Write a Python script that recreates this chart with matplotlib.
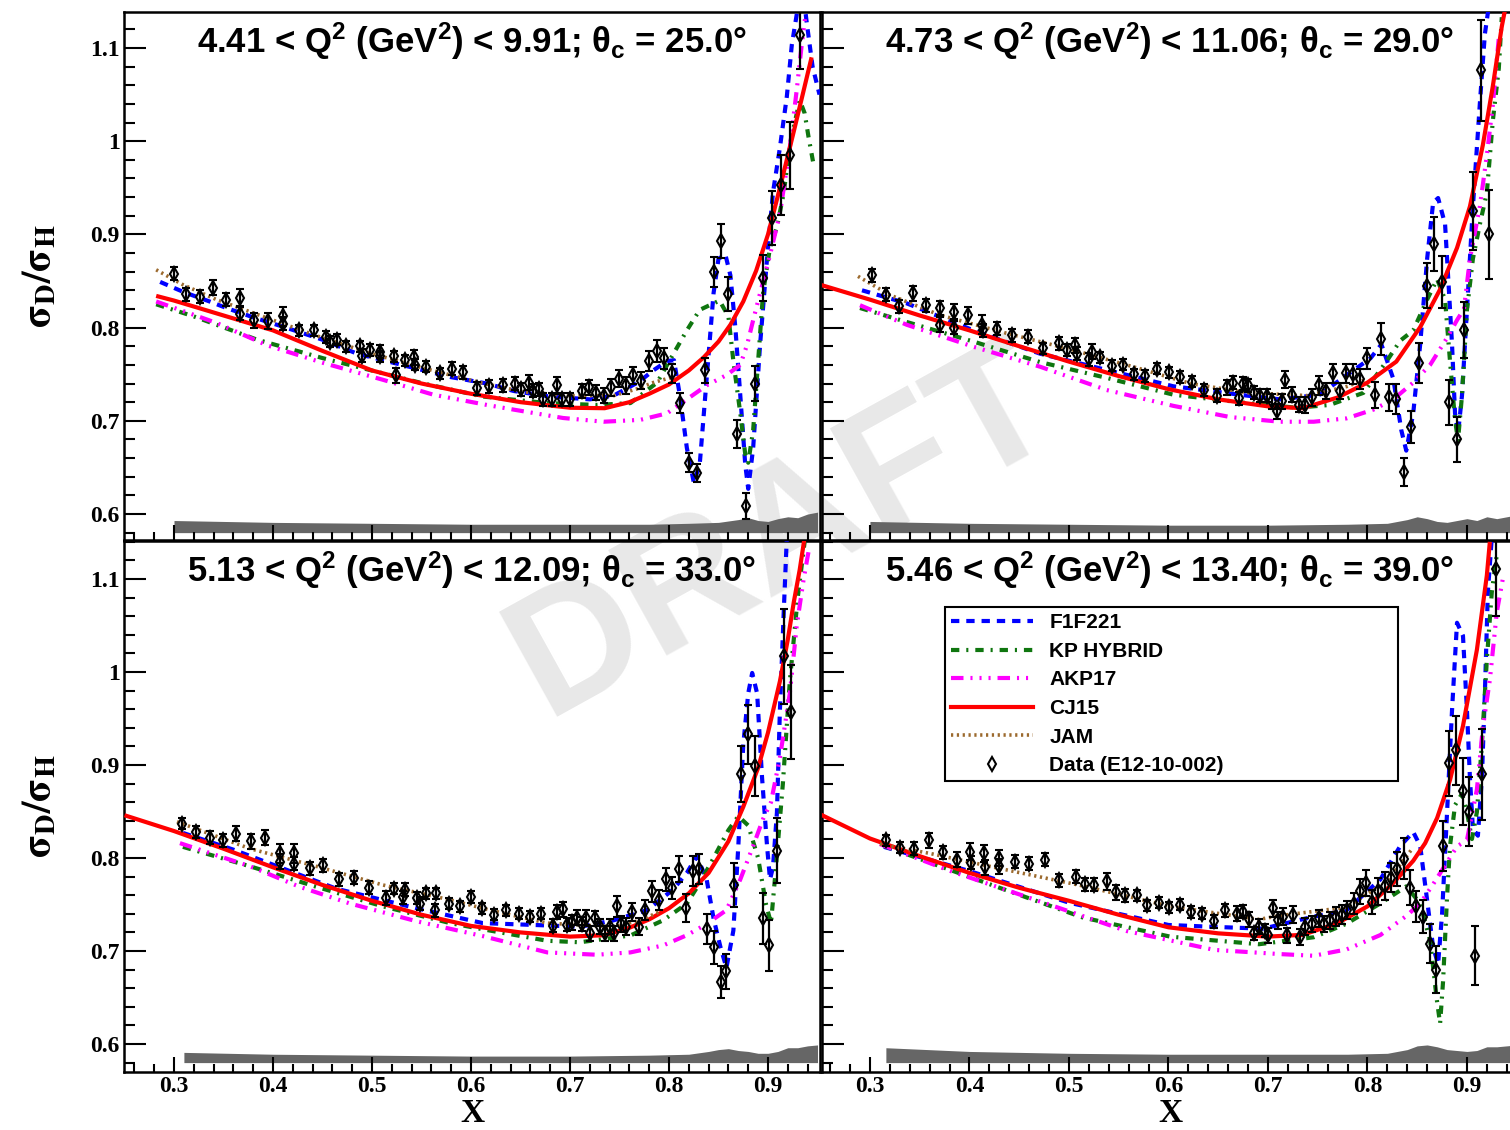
import matplotlib
matplotlib.use("Agg")
import matplotlib.pyplot as plt
from matplotlib.ticker import MultipleLocator
from matplotlib.lines import Line2D

# -------------------------------
# FONTS
# -------------------------------
plt.rcParams["font.family"] = "Liberation Serif"
plt.rcParams["font.weight"] = "bold"
plt.rcParams["mathtext.fontset"] = "custom"
plt.rcParams["mathtext.rm"] = "Liberation Sans:bold"
plt.rcParams["mathtext.it"] = "Liberation Sans:bold"
plt.rcParams["mathtext.bf"] = "Liberation Sans:bold"
plt.rcParams["lines.scale_dashes"] = False

# -------------------------------
# DATA : panel 1 (theta = 25)
# -------------------------------
p1_x = [0.300, 0.312, 0.326, 0.339, 0.353, 0.367, 0.367, 0.381, 0.395, 0.410, 0.410, 0.426, 0.441, 0.454,
        0.458, 0.465, 0.474, 0.488, 0.490, 0.498, 0.508, 0.508, 0.522, 0.524, 0.533, 0.542, 0.543, 0.555,
        0.569, 0.581, 0.592, 0.606, 0.618, 0.632, 0.644, 0.650, 0.659, 0.663, 0.669, 0.673, 0.682, 0.687,
        0.692, 0.700, 0.712, 0.719, 0.726, 0.734, 0.741, 0.749, 0.757, 0.764, 0.772, 0.780, 0.788, 0.795,
        0.803, 0.811, 0.820, 0.828, 0.836, 0.845, 0.852, 0.860, 0.869, 0.878, 0.887, 0.895, 0.904, 0.913,
        0.922, 0.932]
p1_y = [0.858, 0.836, 0.833, 0.843, 0.830, 0.832, 0.815, 0.808, 0.807, 0.812, 0.804, 0.797, 0.797, 0.790,
        0.785, 0.787, 0.780, 0.780, 0.770, 0.776, 0.774, 0.769, 0.769, 0.749, 0.765, 0.768, 0.760, 0.758,
        0.751, 0.756, 0.752, 0.735, 0.737, 0.738, 0.740, 0.734, 0.741, 0.732, 0.734, 0.723, 0.723, 0.738,
        0.723, 0.723, 0.732, 0.736, 0.730, 0.727, 0.736, 0.745, 0.738, 0.749, 0.743, 0.764, 0.775, 0.767,
        0.751, 0.719, 0.655, 0.644, 0.754, 0.860, 0.893, 0.836, 0.686, 0.609, 0.740, 0.853, 0.918, 0.953,
        0.985, 1.114]
p1_e = [0.007, 0.007, 0.007, 0.008, 0.007, 0.009, 0.007, 0.008, 0.009, 0.010, 0.007, 0.006, 0.006, 0.006,
        0.006, 0.006, 0.006, 0.006, 0.007, 0.006, 0.007, 0.006, 0.006, 0.008, 0.006, 0.008, 0.006, 0.006,
        0.006, 0.007, 0.007, 0.007, 0.007, 0.007, 0.007, 0.007, 0.008, 0.007, 0.007, 0.007, 0.007, 0.009,
        0.007, 0.007, 0.008, 0.008, 0.008, 0.008, 0.009, 0.009, 0.009, 0.009, 0.009, 0.011, 0.012, 0.011,
        0.010, 0.011, 0.010, 0.010, 0.013, 0.016, 0.018, 0.018, 0.015, 0.014, 0.019, 0.025, 0.029, 0.032,
        0.036, 0.037]

p1_cj15_x = [0.282, 0.30, 0.35, 0.40, 0.45, 0.50, 0.55, 0.60, 0.65, 0.70, 0.735, 0.76, 0.78, 0.80, 0.82,
             0.835, 0.85, 0.862, 0.875, 0.888, 0.90, 0.912, 0.925, 0.935, 0.944]
p1_cj15_y = [0.834, 0.829, 0.813, 0.797, 0.775, 0.754, 0.740, 0.729, 0.720, 0.714, 0.7135, 0.720, 0.729,
             0.739, 0.754, 0.768, 0.785, 0.803, 0.828, 0.861, 0.900, 0.950, 1.006, 1.050, 1.090]
p1_f1f_x = [0.286, 0.31, 0.336, 0.353, 0.38, 0.41, 0.45, 0.485, 0.53, 0.579, 0.616, 0.643, 0.68, 0.72,
            0.744, 0.77, 0.784, 0.798, 0.805, 0.811, 0.818, 0.825, 0.831, 0.838, 0.845, 0.850, 0.857,
            0.862, 0.867, 0.872, 0.877, 0.880, 0.885, 0.892, 0.899, 0.905, 0.912, 0.919, 0.924, 0.929,
            0.934, 0.940, 0.945, 0.952]
p1_f1f_y = [0.849, 0.838, 0.828, 0.821, 0.811, 0.801, 0.787, 0.772, 0.760, 0.747, 0.740, 0.732, 0.726,
            0.723, 0.727, 0.742, 0.754, 0.764, 0.765, 0.727, 0.671, 0.634, 0.653, 0.745, 0.837, 0.874,
            0.878, 0.856, 0.800, 0.727, 0.653, 0.627, 0.671, 0.782, 0.874, 0.945, 0.993, 1.048, 1.103,
            1.136, 1.170, 1.120, 1.080, 1.050]
p1_kp_x = [0.282, 0.32, 0.384, 0.451, 0.552, 0.612, 0.677, 0.727, 0.761, 0.788, 0.804, 0.818, 0.831,
           0.845, 0.851, 0.860, 0.865, 0.872, 0.877, 0.880, 0.885, 0.890, 0.895, 0.902, 0.909, 0.916,
           0.922, 0.932, 0.937, 0.941, 0.946]
p1_kp_y = [0.825, 0.812, 0.787, 0.767, 0.740, 0.726, 0.719, 0.717, 0.719, 0.741, 0.771, 0.797, 0.819,
           0.826, 0.829, 0.812, 0.764, 0.708, 0.664, 0.655, 0.690, 0.764, 0.837, 0.886, 0.908, 0.945,
           0.996, 1.044, 1.030, 1.004, 0.975]
p1_akp_x = [0.282, 0.343, 0.394, 0.451, 0.511, 0.562, 0.616, 0.643, 0.693, 0.734, 0.771, 0.798, 0.818,
            0.838, 0.858, 0.872, 0.879, 0.885, 0.892, 0.902, 0.912, 0.922, 0.929, 0.934, 0.938]
p1_akp_y = [0.828, 0.805, 0.781, 0.762, 0.744, 0.728, 0.717, 0.712, 0.703, 0.699, 0.701, 0.708, 0.723,
            0.738, 0.749, 0.760, 0.782, 0.808, 0.837, 0.878, 0.922, 0.993, 1.055, 1.103, 1.137]
p1_jam_x = [0.282, 0.309, 0.343, 0.40, 0.45, 0.50, 0.55, 0.609, 0.653, 0.70, 0.744, 0.767, 0.784, 0.804]
p1_jam_y = [0.862, 0.846, 0.830, 0.808, 0.789, 0.772, 0.757, 0.741, 0.731, 0.727, 0.727, 0.734, 0.741, 0.747]
p1_band_x = [0.30, 0.40, 0.50, 0.60, 0.70, 0.78, 0.82, 0.85, 0.87, 0.88, 0.89, 0.90, 0.91, 0.92, 0.93,
             0.94, 0.95]
p1_band_top = [0.593, 0.591, 0.590, 0.589, 0.589, 0.589, 0.590, 0.591, 0.594, 0.596, 0.593, 0.592, 0.595,
               0.597, 0.596, 0.600, 0.602]

# -------------------------------
# DATA : panel 2 (theta = 29)
# -------------------------------
p2_x = [0.302, 0.316, 0.329, 0.343, 0.356, 0.370, 0.370, 0.384, 0.384, 0.399, 0.413, 0.414, 0.428, 0.443,
        0.459, 0.474, 0.490, 0.498, 0.506, 0.508, 0.520, 0.523, 0.531, 0.543, 0.554, 0.565, 0.576, 0.588,
        0.601, 0.612, 0.624, 0.636, 0.649, 0.659, 0.665, 0.671, 0.675, 0.680, 0.686, 0.692, 0.699, 0.704,
        0.709, 0.714, 0.717, 0.724, 0.731, 0.737, 0.744, 0.751, 0.758, 0.765, 0.772, 0.778, 0.785, 0.793,
        0.800, 0.808, 0.814, 0.822, 0.829, 0.837, 0.844, 0.852, 0.860, 0.867, 0.875, 0.882, 0.890, 0.897,
        0.906, 0.914, 0.922]
p2_y = [0.856, 0.835, 0.823, 0.837, 0.824, 0.821, 0.803, 0.817, 0.800, 0.813, 0.803, 0.797, 0.799, 0.792,
        0.790, 0.778, 0.783, 0.776, 0.781, 0.772, 0.766, 0.774, 0.768, 0.759, 0.760, 0.750, 0.748, 0.756,
        0.752, 0.747, 0.742, 0.733, 0.727, 0.736, 0.741, 0.724, 0.740, 0.738, 0.730, 0.727, 0.727, 0.721,
        0.710, 0.721, 0.744, 0.728, 0.717, 0.717, 0.725, 0.738, 0.732, 0.751, 0.732, 0.751, 0.750, 0.745,
        0.767, 0.728, 0.788, 0.725, 0.723, 0.645, 0.693, 0.762, 0.845, 0.890, 0.849, 0.720, 0.680, 0.797,
        0.925, 1.076, 0.900]
p2_e = [0.007, 0.007, 0.007, 0.008, 0.007, 0.007, 0.008, 0.008, 0.007, 0.009, 0.010, 0.007, 0.007, 0.007,
        0.007, 0.006, 0.007, 0.006, 0.008, 0.007, 0.007, 0.008, 0.006, 0.006, 0.006, 0.006, 0.006, 0.006,
        0.006, 0.006, 0.006, 0.006, 0.007, 0.008, 0.007, 0.007, 0.007, 0.007, 0.007, 0.007, 0.007, 0.008,
        0.008, 0.008, 0.009, 0.008, 0.008, 0.009, 0.009, 0.010, 0.009, 0.010, 0.009, 0.010, 0.011, 0.011,
        0.011, 0.014, 0.017, 0.015, 0.016, 0.015, 0.017, 0.021, 0.024, 0.029, 0.028, 0.024, 0.024, 0.030,
        0.042, 0.054, 0.048]

p2_cj15_x = [0.25, 0.30, 0.35, 0.40, 0.45, 0.50, 0.55, 0.60, 0.65, 0.70, 0.735, 0.77, 0.80, 0.829, 0.853,
             0.873, 0.890, 0.903, 0.916, 0.926, 0.935, 0.939]
p2_cj15_y = [0.846, 0.830, 0.813, 0.797, 0.780, 0.7635, 0.748, 0.734, 0.723, 0.7155, 0.7135, 0.725, 0.741,
             0.7635, 0.8005, 0.841, 0.8855, 0.930, 0.996, 1.059, 1.123, 1.145]
p2_f1f_x = [0.292, 0.337, 0.404, 0.471, 0.538, 0.605, 0.679, 0.712, 0.752, 0.779, 0.803, 0.814, 0.826,
            0.834, 0.839, 0.846, 0.853, 0.860, 0.866, 0.871, 0.878, 0.881, 0.885, 0.888, 0.891, 0.895,
            0.900, 0.906, 0.913, 0.918, 0.922]
p2_f1f_y = [0.840, 0.826, 0.797, 0.772, 0.7545, 0.737, 0.727, 0.723, 0.728, 0.749, 0.767, 0.782, 0.745,
            0.690, 0.668, 0.708, 0.782, 0.874, 0.934, 0.939, 0.911, 0.856, 0.782, 0.708, 0.686, 0.727,
            0.819, 0.930, 1.041, 1.115, 1.145]
p2_kp_x = [0.290, 0.337, 0.404, 0.471, 0.538, 0.605, 0.679, 0.729, 0.762, 0.796, 0.819, 0.833, 0.846,
           0.860, 0.870, 0.878, 0.883, 0.888, 0.891, 0.895, 0.900, 0.906, 0.913, 0.920, 0.926, 0.932, 0.935]
p2_kp_y = [0.821, 0.806, 0.785, 0.763, 0.746, 0.728, 0.719, 0.714, 0.717, 0.730, 0.7635, 0.786, 0.797,
           0.830, 0.852, 0.830, 0.7635, 0.701, 0.679, 0.727, 0.819, 0.874, 0.911, 0.945, 1.022, 1.078, 1.133]
p2_akp_x = [0.290, 0.337, 0.404, 0.471, 0.538, 0.605, 0.662, 0.712, 0.746, 0.779, 0.806, 0.826, 0.846,
            0.863, 0.880, 0.890, 0.897, 0.903, 0.913, 0.920, 0.926, 0.932]
p2_akp_y = [0.824, 0.803, 0.7795, 0.758, 0.733, 0.716, 0.704, 0.699, 0.699, 0.7026, 0.712, 0.723, 0.741,
            0.760, 0.789, 0.808, 0.820, 0.874, 0.930, 0.985, 1.039, 1.111]
p2_jam_x = [0.288, 0.320, 0.370, 0.437, 0.504, 0.571, 0.622, 0.68, 0.74, 0.78, 0.80]
p2_jam_y = [0.855, 0.835, 0.8135, 0.794, 0.776, 0.756, 0.740, 0.730, 0.727, 0.737, 0.745]
p2_band_x = [0.30, 0.40, 0.50, 0.60, 0.70, 0.78, 0.82, 0.84, 0.85, 0.86, 0.87, 0.88, 0.89, 0.90, 0.91,
             0.92, 0.93, 0.95]
p2_band_top = [0.592, 0.590, 0.589, 0.588, 0.588, 0.589, 0.590, 0.594, 0.597, 0.595, 0.592, 0.591, 0.593,
               0.595, 0.593, 0.597, 0.595, 0.599]

# -------------------------------
# DATA : panel 3 (theta = 33)
# -------------------------------
p3_x = [0.308, 0.322, 0.336, 0.350, 0.363, 0.378, 0.392, 0.407, 0.407, 0.421, 0.421, 0.437, 0.451, 0.467,
        0.482, 0.497, 0.514, 0.522, 0.531, 0.533, 0.545, 0.548, 0.555, 0.564, 0.565, 0.578, 0.589, 0.600,
        0.611, 0.623, 0.635, 0.648, 0.660, 0.671, 0.683, 0.687, 0.693, 0.697, 0.702, 0.707, 0.712, 0.716,
        0.720, 0.725, 0.730, 0.735, 0.740, 0.744, 0.747, 0.751, 0.757, 0.763, 0.770, 0.776, 0.783, 0.790,
        0.797, 0.803, 0.810, 0.817, 0.824, 0.830, 0.838, 0.845, 0.852, 0.858, 0.866, 0.873, 0.880, 0.887,
        0.895, 0.901, 0.909, 0.916, 0.923]
p3_y = [0.837, 0.828, 0.822, 0.819, 0.826, 0.818, 0.822, 0.805, 0.796, 0.805, 0.794, 0.789, 0.792, 0.777,
        0.779, 0.768, 0.757, 0.767, 0.758, 0.766, 0.757, 0.751, 0.762, 0.744, 0.762, 0.751, 0.748, 0.758,
        0.746, 0.739, 0.744, 0.740, 0.737, 0.740, 0.727, 0.742, 0.745, 0.728, 0.731, 0.736, 0.729, 0.736,
        0.719, 0.735, 0.726, 0.719, 0.726, 0.719, 0.748, 0.729, 0.726, 0.742, 0.726, 0.744, 0.764, 0.755,
        0.777, 0.768, 0.788, 0.746, 0.786, 0.788, 0.724, 0.704, 0.667, 0.678, 0.771, 0.890, 0.933, 0.899,
        0.735, 0.706, 0.808, 1.017, 0.957]
p3_e = [0.006, 0.006, 0.007, 0.007, 0.008, 0.008, 0.008, 0.010, 0.008, 0.010, 0.007, 0.007, 0.007, 0.007,
        0.007, 0.007, 0.007, 0.006, 0.007, 0.007, 0.006, 0.007, 0.006, 0.007, 0.006, 0.006, 0.006, 0.006,
        0.006, 0.006, 0.006, 0.006, 0.006, 0.006, 0.007, 0.008, 0.008, 0.007, 0.008, 0.008, 0.008, 0.008,
        0.008, 0.008, 0.008, 0.008, 0.008, 0.008, 0.011, 0.009, 0.009, 0.010, 0.009, 0.011, 0.011, 0.011,
        0.012, 0.012, 0.014, 0.015, 0.016, 0.016, 0.016, 0.018, 0.017, 0.019, 0.024, 0.030, 0.032, 0.032,
        0.027, 0.027, 0.035, 0.051, 0.051]

p3_cj15_x = [0.25, 0.30, 0.35, 0.40, 0.45, 0.50, 0.55, 0.60, 0.65, 0.70, 0.735, 0.76, 0.78, 0.80, 0.82,
             0.84, 0.86, 0.875, 0.89, 0.90, 0.912, 0.92, 0.926, 0.932, 0.937]
p3_cj15_y = [0.846, 0.829, 0.810, 0.790, 0.771, 0.754, 0.739, 0.727, 0.720, 0.7155, 0.717, 0.725, 0.734,
             0.746, 0.762, 0.784, 0.818, 0.855, 0.897, 0.935, 0.990, 1.035, 1.075, 1.110, 1.145]
p3_f1f_x = [0.309, 0.360, 0.464, 0.545, 0.612, 0.677, 0.71, 0.744, 0.778, 0.804, 0.818, 0.828, 0.838,
            0.845, 0.852, 0.858, 0.865, 0.870, 0.875, 0.880, 0.884, 0.889, 0.894, 0.899, 0.902, 0.905,
            0.909, 0.912, 0.916, 0.919]
p3_f1f_y = [0.827, 0.809, 0.767, 0.746, 0.730, 0.7275, 0.726, 0.733, 0.744, 0.766, 0.784, 0.802, 0.777,
            0.735, 0.704, 0.682, 0.722, 0.813, 0.922, 0.977, 0.999, 0.977, 0.886, 0.813, 0.777, 0.790,
            0.849, 0.959, 1.068, 1.145]
p3_kp_x = [0.309, 0.377, 0.444, 0.511, 0.579, 0.616, 0.677, 0.710, 0.761, 0.794, 0.818, 0.831, 0.845,
           0.860, 0.870, 0.880, 0.890, 0.898, 0.903, 0.908, 0.915, 0.922, 0.930, 0.937]
p3_kp_y = [0.812, 0.791, 0.769, 0.748, 0.730, 0.7226, 0.711, 0.7094, 0.7167, 0.733, 0.751, 0.773, 0.800,
           0.830, 0.845, 0.835, 0.800, 0.750, 0.730, 0.790, 0.880, 0.990, 1.080, 1.140]
p3_akp_x = [0.306, 0.377, 0.427, 0.478, 0.545, 0.612, 0.677, 0.727, 0.761, 0.794, 0.818, 0.838, 0.858,
            0.872, 0.885, 0.895, 0.903, 0.912, 0.922, 0.929, 0.936, 0.941]
p3_akp_y = [0.816, 0.791, 0.769, 0.751, 0.732, 0.716, 0.6985, 0.696, 0.6985, 0.706, 0.717, 0.729, 0.744,
            0.777, 0.813, 0.842, 0.860, 0.908, 0.977, 1.050, 1.100, 1.130]
p3_jam_x = [0.303, 0.377, 0.444, 0.511, 0.579, 0.619, 0.677, 0.744, 0.771, 0.79]
p3_jam_y = [0.839, 0.810, 0.791, 0.771, 0.755, 0.744, 0.730, 0.726, 0.733, 0.742]
p3_band_x = [0.31, 0.40, 0.50, 0.60, 0.70, 0.78, 0.82, 0.84, 0.85, 0.86, 0.87, 0.88, 0.89, 0.90, 0.91,
             0.92, 0.93, 0.94, 0.95]
p3_band_top = [0.591, 0.589, 0.588, 0.587, 0.587, 0.588, 0.589, 0.592, 0.594, 0.595, 0.593, 0.592, 0.590,
               0.590, 0.592, 0.596, 0.596, 0.598, 0.599]

# -------------------------------
# DATA : panel 4 (theta = 39)
# -------------------------------
p4_x = [0.316, 0.330, 0.344, 0.359, 0.373, 0.387, 0.401, 0.402, 0.415, 0.416, 0.430, 0.430, 0.446, 0.460,
        0.476, 0.490, 0.507, 0.516, 0.525, 0.538, 0.547, 0.556, 0.568, 0.578, 0.590, 0.601, 0.612, 0.623,
        0.634, 0.646, 0.657, 0.669, 0.675, 0.681, 0.686, 0.691, 0.697, 0.700, 0.705, 0.710, 0.715, 0.719,
        0.725, 0.732, 0.737, 0.744, 0.751, 0.756, 0.762, 0.768, 0.774, 0.779, 0.786, 0.793, 0.799, 0.805,
        0.811, 0.818, 0.824, 0.830, 0.837, 0.843, 0.849, 0.856, 0.863, 0.869, 0.876, 0.882, 0.889, 0.896,
        0.902, 0.908, 0.915, 0.929]
p4_y = [0.819, 0.811, 0.810, 0.819, 0.806, 0.798, 0.807, 0.795, 0.805, 0.790, 0.800, 0.791, 0.796, 0.794,
        0.798, 0.776, 0.780, 0.772, 0.771, 0.775, 0.763, 0.760, 0.760, 0.749, 0.752, 0.747, 0.750, 0.742,
        0.740, 0.732, 0.744, 0.740, 0.742, 0.734, 0.719, 0.726, 0.722, 0.717, 0.746, 0.733, 0.737, 0.717,
        0.739, 0.715, 0.726, 0.729, 0.735, 0.729, 0.733, 0.737, 0.739, 0.744, 0.751, 0.764, 0.773, 0.753,
        0.764, 0.770, 0.779, 0.788, 0.799, 0.768, 0.748, 0.737, 0.708, 0.680, 0.813, 0.902, 0.916, 0.872,
        0.850, 0.695, 0.890, 1.111]
p4_e = [0.006, 0.006, 0.007, 0.008, 0.007, 0.008, 0.009, 0.007, 0.009, 0.008, 0.009, 0.008, 0.007, 0.007,
        0.007, 0.007, 0.007, 0.007, 0.007, 0.009, 0.008, 0.007, 0.006, 0.006, 0.006, 0.006, 0.006, 0.006,
        0.006, 0.007, 0.007, 0.008, 0.007, 0.008, 0.007, 0.008, 0.007, 0.008, 0.009, 0.009, 0.009, 0.008,
        0.009, 0.009, 0.009, 0.009, 0.009, 0.009, 0.009, 0.010, 0.010, 0.010, 0.011, 0.013, 0.014, 0.013,
        0.014, 0.015, 0.016, 0.018, 0.022, 0.019, 0.017, 0.018, 0.021, 0.025, 0.027, 0.035, 0.037, 0.036,
        0.037, 0.032, 0.049, 0.051]

p4_cj15_x = [0.25, 0.30, 0.35, 0.40, 0.45, 0.50, 0.55, 0.60, 0.65, 0.70, 0.735, 0.77, 0.80, 0.825, 0.846,
             0.858, 0.870, 0.883, 0.896, 0.910, 0.920, 0.923]
p4_cj15_y = [0.847, 0.821, 0.802, 0.784, 0.768, 0.754, 0.739, 0.7255, 0.719, 0.7155, 0.7174, 0.730, 0.748,
             0.772, 0.797, 0.816, 0.843, 0.884, 0.942, 1.024, 1.104, 1.140]
p4_f1f_x = [0.314, 0.40, 0.50, 0.60, 0.645, 0.695, 0.746, 0.779, 0.813, 0.833, 0.846, 0.853, 0.8595,
            0.866, 0.871, 0.875, 0.880, 0.885, 0.890, 0.896, 0.900, 0.903, 0.906, 0.911, 0.915, 0.918,
            0.921, 0.925]
p4_f1f_y = [0.812, 0.786, 0.752, 0.728, 0.726, 0.724, 0.737, 0.744, 0.777, 0.813, 0.828, 0.813, 0.7585,
            0.704, 0.686, 0.740, 0.849, 0.959, 1.053, 1.039, 0.959, 0.886, 0.831, 0.824, 0.886, 0.977,
            1.086, 1.145]
p4_kp_x = [0.314, 0.425, 0.514, 0.602, 0.691, 0.746, 0.779, 0.813, 0.839, 0.853, 0.863, 0.8695, 0.873,
           0.876, 0.880, 0.883, 0.888, 0.895, 0.900, 0.905, 0.910, 0.915, 0.920, 0.925, 0.930]
p4_kp_y = [0.813, 0.770, 0.736, 0.7154, 0.7073, 0.7148, 0.7294, 0.7512, 0.7695, 0.7512, 0.7112, 0.6493,
           0.622, 0.6675, 0.7585, 0.8131, 0.8569, 0.869, 0.8494, 0.8204, 0.8494, 0.9224, 1.0134, 1.0862,
           1.126]
p4_akp_x = [0.310, 0.381, 0.469, 0.558, 0.646, 0.712, 0.746, 0.779, 0.813, 0.839, 0.853, 0.866, 0.880,
            0.890, 0.900, 0.910, 0.916, 0.923, 0.930, 0.936]
p4_akp_y = [0.815, 0.786, 0.754, 0.7215, 0.7012, 0.6967, 0.6949, 0.7017, 0.7172, 0.7376, 0.7512, 0.7718,
            0.7955, 0.8125, 0.8193, 0.8738, 0.9405, 0.9915, 1.0644, 1.100]
p4_jam_x = [0.31, 0.36, 0.425, 0.514, 0.602, 0.691, 0.712, 0.779, 0.82, 0.845]
p4_jam_y = [0.815, 0.805, 0.790, 0.770, 0.748, 0.734, 0.738, 0.747, 0.775, 0.810]
p4_band_x = [0.316, 0.40, 0.50, 0.60, 0.70, 0.78, 0.82, 0.84, 0.85, 0.86, 0.87, 0.88, 0.89, 0.90, 0.91,
             0.92, 0.93, 0.95]
p4_band_top = [0.596, 0.592, 0.590, 0.589, 0.589, 0.589, 0.590, 0.594, 0.598, 0.599, 0.597, 0.594, 0.593,
               0.592, 0.593, 0.597, 0.597, 0.599]

titles = [
    "4.41 < Q$^2$ (GeV$^2$) < 9.91; θ$_c$ = 25.0°",
    "4.73 < Q$^2$ (GeV$^2$) < 11.06; θ$_c$ = 29.0°",
    "5.13 < Q$^2$ (GeV$^2$) < 12.09; θ$_c$ = 33.0°",
    "5.46 < Q$^2$ (GeV$^2$) < 13.40; θ$_c$ = 39.0°",
]
model_names = ["F1F221", "KP HYBRID", "AKP17", "CJ15", "JAM"]
band_base = 0.58

# -------------------------------
# STYLES
# -------------------------------
styles = {
    "F1F221": dict(color="#0000ff", lw=3.0, dashes=(6, 5)),
    "KP HYBRID": dict(color="#0f760f", lw=3.0, dashes=(6, 5, 1.5, 5)),
    "AKP17": dict(color="#ff00ff", lw=3.0, dashes=(9, 5, 1.5, 5, 1.5, 5, 1.5, 5)),
    "CJ15": dict(color="#ff0000", lw=3.0),
    "JAM": dict(color="#9c6a2e", lw=2.6, dashes=(1.6, 2.6)),
}

panels = [
    (p1_x, p1_y, p1_e,
     [(p1_f1f_x, p1_f1f_y), (p1_kp_x, p1_kp_y), (p1_akp_x, p1_akp_y), (p1_cj15_x, p1_cj15_y), (p1_jam_x, p1_jam_y)],
     p1_band_x, p1_band_top),
    (p2_x, p2_y, p2_e,
     [(p2_f1f_x, p2_f1f_y), (p2_kp_x, p2_kp_y), (p2_akp_x, p2_akp_y), (p2_cj15_x, p2_cj15_y), (p2_jam_x, p2_jam_y)],
     p2_band_x, p2_band_top),
    (p3_x, p3_y, p3_e,
     [(p3_f1f_x, p3_f1f_y), (p3_kp_x, p3_kp_y), (p3_akp_x, p3_akp_y), (p3_cj15_x, p3_cj15_y), (p3_jam_x, p3_jam_y)],
     p3_band_x, p3_band_top),
    (p4_x, p4_y, p4_e,
     [(p4_f1f_x, p4_f1f_y), (p4_kp_x, p4_kp_y), (p4_akp_x, p4_akp_y), (p4_cj15_x, p4_cj15_y), (p4_jam_x, p4_jam_y)],
     p4_band_x, p4_band_top),
]

# -------------------------------
# FIGURE / AXES LAYOUT (pixels of a 1510x1130 canvas)
# -------------------------------
W, H = 1510, 1130
fig = plt.figure(figsize=(15.1, 11.3), dpi=100)

boxes = [(124, 12, 696, 528), (822, 12, 696, 528), (124, 541, 696, 531), (822, 541, 696, 531)]
xlims = [(0.2495, 0.9525), (0.2518, 0.9513), (0.2495, 0.9525), (0.2518, 0.9513)]
ylims = [(0.5721, 1.1386), (0.5721, 1.1386), (0.5699, 1.1409), (0.5699, 1.1409)]

# DRAFT watermark behind everything
fig.text(0.518, 0.528, "DRAFT", rotation=29, fontsize=126, color="#e8e8e8",
         family="Liberation Sans", weight="bold", ha="center", va="center", zorder=-5)

axes = []
for i, (px, py, pw, ph) in enumerate(boxes):
    ax = fig.add_axes([px / W, 1 - (py + ph) / H, pw / W, ph / H])
    ax.set_facecolor("none")
    ax.set_xlim(*xlims[i])
    ax.set_ylim(*ylims[i])
    axes.append(ax)

    dx, dy, de, curves, bx, btop = panels[i]

    # systematic band
    ax.fill_between(bx, band_base, btop, color="#666666", lw=0, zorder=1)

    # model curves
    for name, (cx, cy) in zip(model_names, curves):
        ax.plot(cx, cy, solid_capstyle="butt", dash_capstyle="butt", zorder=3, **styles[name])

    # data
    ax.errorbar(dx, dy, yerr=de, fmt="d", ms=7, mfc="none", mec="black", mew=1.5,
                ecolor="black", elinewidth=1.6, capsize=3, capthick=1.6, zorder=5)

    # title
    ax.text(0.5, 0.945, titles[i], transform=ax.transAxes, ha="center", va="center",
            fontsize=25, family="Liberation Sans", weight="bold", zorder=6)

    # ticks
    ax.xaxis.set_major_locator(MultipleLocator(0.1))
    ax.xaxis.set_minor_locator(MultipleLocator(0.02))
    ax.yaxis.set_major_locator(MultipleLocator(0.1))
    ax.yaxis.set_minor_locator(MultipleLocator(0.02))
    ax.tick_params(axis="both", which="both", direction="in", top=False, right=False, width=1.5)
    ax.tick_params(axis="y", which="major", length=16)
    ax.tick_params(axis="y", which="minor", length=8)
    ax.tick_params(axis="x", which="major", length=11)
    ax.tick_params(axis="x", which="minor", length=5.5)
    ax.tick_params(axis="both", labelsize=17, pad=3)
    ax.set_yticks([0.6, 0.7, 0.8, 0.9, 1.0, 1.1])
    ax.set_yticklabels(["0.6", "0.7", "0.8", "0.9", "1", "1.1"])
    ax.set_xticks([0.3, 0.4, 0.5, 0.6, 0.7, 0.8, 0.9])
    ax.set_xticklabels(["0.3", "0.4", "0.5", "0.6", "0.7", "0.8", "0.9"])
    if i in (1, 3):
        ax.tick_params(axis="y", labelleft=False)
    if i in (0, 1):
        ax.tick_params(axis="x", labelbottom=False)
    for sp in ax.spines.values():
        sp.set_linewidth(1.8)

# -------------------------------
# LEGEND (bottom right panel)
# -------------------------------
handles = [Line2D([], [], **styles[n]) for n in model_names]
handles.append(Line2D([], [], ls="none", marker="d", ms=7, mfc="none", mec="black", mew=1.5))
labels = model_names + ["Data (E12-10-002)"]
leg = axes[3].legend(handles, labels, loc="upper left", bbox_to_anchor=(0.177, 0.5405, 0.650, 0.3352),
                     mode="expand", prop={"family": "Liberation Sans", "weight": "bold", "size": 15},
                     handlelength=3.9, handletextpad=0.8, labelspacing=0.46, borderpad=0.3,
                     borderaxespad=0, fancybox=False, framealpha=1, edgecolor="black")
leg.get_frame().set_linewidth(1.5)
leg.set_zorder(7)

# -------------------------------
# AXIS LABELS
# -------------------------------
for yc in (0.756, 0.287):
    fig.text(0.027, yc, r"$\mathbf{\sigma_D/\sigma_H}$", rotation=90, ha="center", va="center",
             fontsize=29, math_fontfamily="stix")
for xc in (0.3126, 0.775):
    fig.text(xc, 0.001, "X", ha="center", va="bottom", fontsize=24, family="Liberation Serif",
             weight="bold")

fig.savefig("out.png", dpi=100)
